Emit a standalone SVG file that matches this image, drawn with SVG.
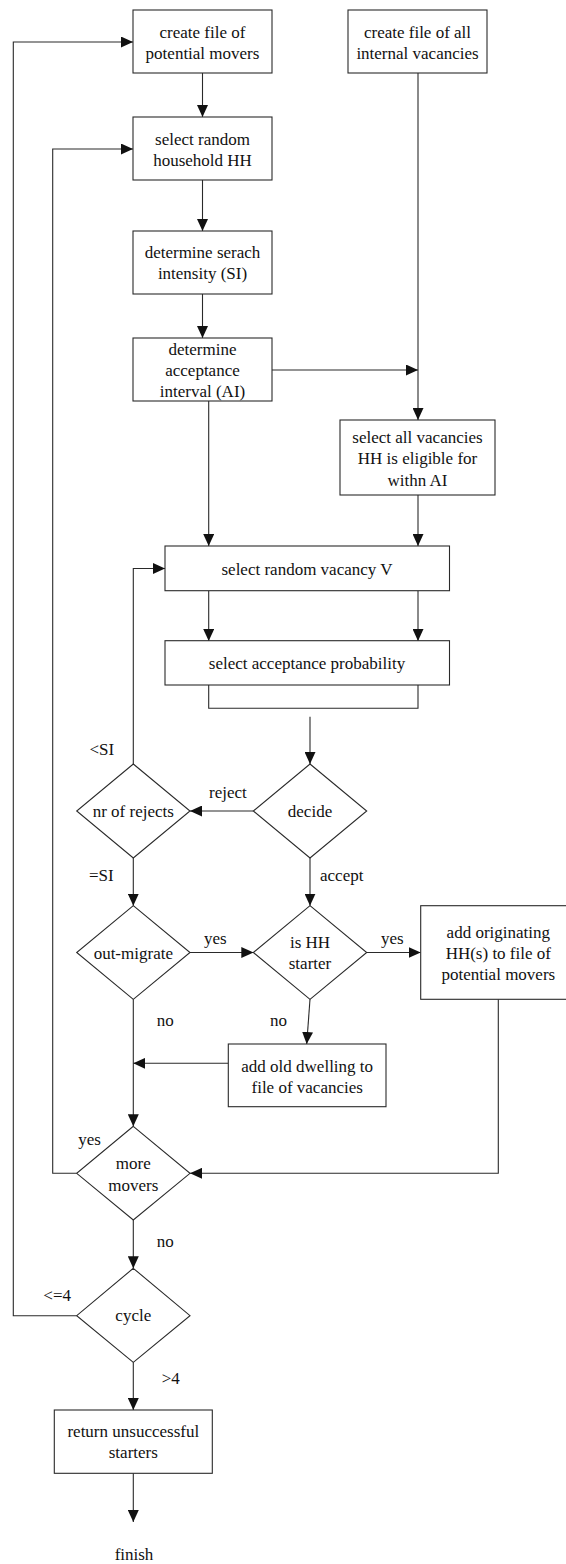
<svg xmlns="http://www.w3.org/2000/svg" width="566" height="1564" viewBox="0 0 566 1564">
  <style>
    .box { fill: #fff; stroke: #2a2a2a; stroke-width: 1.1; }
    .dia { fill: #fff; stroke: #2a2a2a; stroke-width: 1.1; }
    .wire { fill: none; stroke: #2a2a2a; stroke-width: 1.1; }
    .arrow { marker-end: url(#head); }
    .c { text-anchor: middle; }
  </style>
  <defs>
    <marker id="head" markerUnits="userSpaceOnUse" markerWidth="12" markerHeight="11" refX="12" refY="5.5" orient="auto">
      <path d="M0,0 L12,5.5 L0,11 z" fill="#111"/>
    </marker>
  </defs>
  <rect width="566" height="1564" fill="#fff"/>

  <!-- connectors -->
  <g id="connectors">
    <line class="wire arrow" x1="202.5" y1="73" x2="202.5" y2="117"/>
    <line class="wire arrow" x1="202.5" y1="180" x2="202.5" y2="231"/>
    <line class="wire arrow" x1="202.5" y1="294" x2="202.5" y2="338"/>
    <line class="wire arrow" x1="272" y1="370" x2="418" y2="370"/>
    <line class="wire arrow" x1="418" y1="73" x2="418" y2="420"/>
    <line class="wire arrow" x1="208.7" y1="401" x2="208.7" y2="546"/>
    <line class="wire arrow" x1="418" y1="495" x2="418" y2="546"/>
    <line class="wire arrow" x1="208.7" y1="591" x2="208.7" y2="641"/>
    <line class="wire arrow" x1="418" y1="591" x2="418" y2="641"/>
    <path class="wire" d="M208.7,685 V708.3 H418 V685"/>
    <line class="wire arrow" x1="310" y1="716.7" x2="310" y2="764"/>
    <line class="wire arrow" x1="253.3" y1="811" x2="190" y2="811"/>
    <path class="wire arrow" d="M133.3,764 V568.5 H165"/>
    <line class="wire arrow" x1="133.3" y1="858" x2="133.3" y2="905.7"/>
    <line class="wire arrow" x1="310" y1="858" x2="310" y2="905.7"/>
    <line class="wire arrow" x1="190" y1="952.5" x2="253.3" y2="952.5"/>
    <line class="wire arrow" x1="366.7" y1="952.5" x2="420.7" y2="952.5"/>
    <line class="wire arrow" x1="310" y1="999.3" x2="306.7" y2="1044"/>
    <line class="wire arrow" x1="228.3" y1="1063.3" x2="133.3" y2="1063.3"/>
    <line class="wire arrow" x1="133.3" y1="999.3" x2="133.3" y2="1126.3"/>
    <path class="wire arrow" d="M498.3,999.3 V1173.3 H190"/>
    <path class="wire arrow" d="M76.7,1173.3 H52.7 V149 H133"/>
    <line class="wire arrow" x1="133.3" y1="1220" x2="133.3" y2="1268.3"/>
    <path class="wire arrow" d="M76.7,1315.7 H13.3 V42 H133"/>
    <line class="wire arrow" x1="133.3" y1="1362.3" x2="133.3" y2="1410"/>
    <line class="wire arrow" x1="133.3" y1="1473.3" x2="133.3" y2="1522"/>
  </g>

  <g font-family="'Liberation Serif', 'DejaVu Serif', serif" font-size="17" fill="#111">
  <!-- connector labels -->
  <g id="labels">
    <text x="89.5" y="755">&lt;SI</text>
    <text x="209" y="797.5">reject</text>
    <text x="89" y="881">=SI</text>
    <text x="320" y="881">accept</text>
    <text x="204" y="944">yes</text>
    <text x="381" y="944">yes</text>
    <text x="156.7" y="1026">no</text>
    <text x="270" y="1026">no</text>
    <text x="78.3" y="1145">yes</text>
    <text x="156.7" y="1247">no</text>
    <text x="43.3" y="1300.5">&lt;=4</text>
    <text x="161.7" y="1384">&gt;4</text>
  </g>

  <!-- process boxes -->
  <g id="create-movers">
    <rect class="box" x="133" y="10" width="139" height="63"/>
    <text class="c" x="202.5" y="37.5">create file of</text>
    <text class="c" x="202.5" y="58.5">potential movers</text>
  </g>
  <g id="create-vacancies">
    <rect class="box" x="348" y="10" width="139" height="63"/>
    <text class="c" x="417.5" y="37.5">create file of all</text>
    <text class="c" x="417.5" y="58.5">internal vacancies</text>
  </g>
  <g id="select-household">
    <rect class="box" x="133" y="117" width="139" height="63"/>
    <text class="c" x="202.5" y="144.5">select random</text>
    <text class="c" x="202.5" y="165.5">household HH</text>
  </g>
  <g id="search-intensity">
    <rect class="box" x="133" y="231" width="139" height="63"/>
    <text class="c" x="202.5" y="258">determine serach</text>
    <text class="c" x="202.5" y="279">intensity (SI)</text>
  </g>
  <g id="acceptance-interval">
    <rect class="box" x="133" y="338" width="139" height="63"/>
    <text class="c" x="202.5" y="355">determine</text>
    <text class="c" x="202.5" y="376">acceptance</text>
    <text class="c" x="202.5" y="397">interval (AI)</text>
  </g>
  <g id="eligible-vacancies">
    <rect class="box" x="340" y="420" width="155" height="75"/>
    <text class="c" x="417.5" y="442.5">select all vacancies</text>
    <text class="c" x="417.5" y="464">HH is eligible for</text>
    <text class="c" x="417.5" y="486">withn AI</text>
  </g>
  <g id="random-vacancy">
    <rect class="box" x="165" y="546" width="284.5" height="44.7"/>
    <text class="c" x="307" y="574.5">select random vacancy V</text>
  </g>
  <g id="acceptance-probability">
    <rect class="box" x="165" y="640.7" width="284.5" height="44.3"/>
    <text class="c" x="307" y="669">select acceptance probability</text>
  </g>

  <!-- decisions -->
  <g id="nr-of-rejects">
    <polygon class="dia" points="133.3,764 190,811 133.3,858 76.7,811"/>
    <text class="c" x="133.3" y="817">nr of rejects</text>
  </g>
  <g id="decide">
    <polygon class="dia" points="310,764 366.7,811 310,858 253.3,811"/>
    <text class="c" x="310" y="817">decide</text>
  </g>
  <g id="out-migrate">
    <polygon class="dia" points="133.3,905.7 190,952.5 133.3,999.3 76.7,952.5"/>
    <text class="c" x="133.3" y="958.5">out-migrate</text>
  </g>
  <g id="is-starter">
    <polygon class="dia" points="310,905.7 366.7,952.5 310,999.3 253.3,952.5"/>
    <text class="c" x="310" y="948">is HH</text>
    <text class="c" x="310" y="969">starter</text>
  </g>
  <g id="add-originating">
    <rect class="box" x="420.7" y="905.7" width="155.2" height="93.6"/>
    <text class="c" x="498.3" y="938">add originating</text>
    <text class="c" x="498.3" y="959">HH(s) to file of</text>
    <text class="c" x="498.3" y="980">potential movers</text>
  </g>
  <g id="add-old-dwelling">
    <rect class="box" x="228.3" y="1044" width="157.7" height="62.7"/>
    <text class="c" x="307.2" y="1072">add old dwelling to</text>
    <text class="c" x="307.2" y="1093">file of vacancies</text>
  </g>
  <g id="more-movers">
    <polygon class="dia" points="133.3,1126.3 190,1173.3 133.3,1220 76.7,1173.3"/>
    <text class="c" x="133.3" y="1169">more</text>
    <text class="c" x="133.3" y="1190.5">movers</text>
  </g>
  <g id="cycle">
    <polygon class="dia" points="133.3,1268.3 190,1315.7 133.3,1362.3 76.7,1315.7"/>
    <text class="c" x="133.3" y="1321">cycle</text>
  </g>
  <g id="return-starters">
    <rect class="box" x="54.3" y="1410" width="158" height="63.3"/>
    <text class="c" x="133.3" y="1436.5">return unsuccessful</text>
    <text class="c" x="133.3" y="1458">starters</text>
  </g>
  <g id="finish">
    <text class="c" x="134" y="1560">finish</text>
  </g>
  </g>
</svg>
